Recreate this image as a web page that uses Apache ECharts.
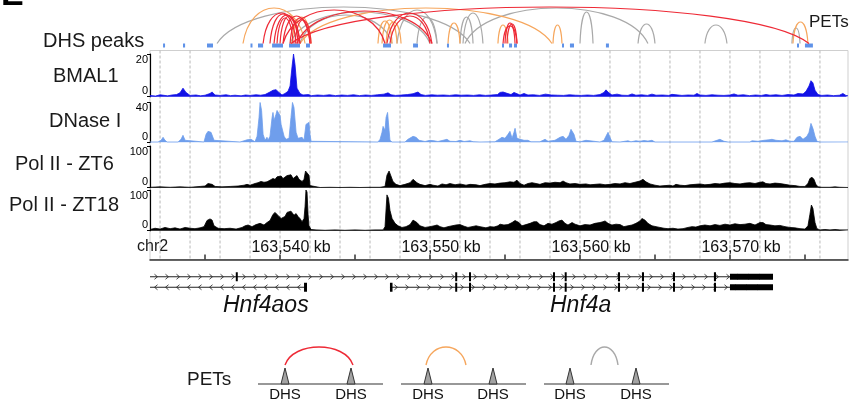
<!DOCTYPE html>
<html>
<head>
<meta charset="utf-8">
<script src="https://cdn.jsdelivr.net/npm/echarts@6/dist/echarts.min.js"></script>
<style>
  html, body { margin: 0; padding: 0; background: #fff; }
  #chart { width: 857px; height: 400px; }
</style>
</head>
<body>
<div id="chart"></div>
<script>
// positions are kb relative to chr2:163,540 kb
const BASE_KB = 163540;
const X_MIN = -8.67;
const X_MAX = 37.87;

const majorTicks = [-5, 0, 5, 10, 15, 20, 25, 30, 35];
const tickLabels = [0, 10, 20, 30];
const gridLines = [-8, -6, -4, -2, 0, 2, 4, 6, 8, 10, 12, 14, 16, 18, 20, 22, 24, 26, 28, 30, 32, 34, 36];

const trackNames = ['BMAL1', 'DNase I', 'Pol II - ZT6', 'Pol II - ZT18'];
const trackMax = [20, 40, 100, 100];

const bmal1 = [
  [-8.67,0.6],[-8.3,0.3],[-8.0,0.9],[-7.5,0.4],[-7.2,0.8],[-6.9,1.0],[-6.67,1.8],[-6.47,4.0],[-6.27,2.0],[-6.0,0.6],
  [-5.6,0.8],[-5.3,0.4],[-5.0,0.7],[-4.67,1.5],[-4.53,2.2],[-4.33,0.8],[-4.0,0.6],[-3.6,0.9],[-3.3,0.5],[-3.0,0.7],
  [-2.6,0.4],[-2.3,0.8],[-2.0,0.6],[-1.6,0.9],[-1.3,0.7],[-1.0,1.0],[-0.67,2.2],[-0.47,3.0],[-0.27,3.3],[-0.07,2.0],
  [0.13,0.8],[0.33,1.5],[0.53,2.5],[0.67,5],[0.8,14],[0.9,20],[1.0,15],[1.13,4],[1.33,1.5],[1.53,0.8],
  [1.9,1.0],[2.1,0.5],[2.5,0.8],[2.9,0.6],[3.3,0.9],[3.7,0.5],[4.1,0.8],[4.5,0.6],[4.9,0.9],[5.3,0.5],
  [5.7,0.8],[6.1,0.6],[6.5,0.9],[6.93,1.2],[7.2,1.8],[7.4,0.9],[7.7,0.6],[8.1,0.8],[8.5,1.0],[8.87,1.4],
  [9.2,2.2],[9.4,1.0],[9.7,0.6],[10.1,0.9],[10.5,0.7],[10.9,0.8],[11.3,0.6],[11.7,0.9],[12.1,0.7],[12.5,0.8],
  [12.9,0.6],[13.3,0.9],[13.7,0.6],[14.1,0.8],[14.5,1.0],[14.67,2.0],[14.87,2.2],[15.13,1.6],[15.4,1.0],[15.6,2.0],
  [15.8,1.4],[16.0,0.8],[16.27,1.5],[16.53,0.8],[16.9,0.9],[17.3,0.6],[17.7,1.2],[18.1,0.8],[18.5,0.7],[18.9,0.6],
  [19.3,0.9],[19.7,0.7],[20.1,0.6],[20.5,0.8],[20.9,0.6],[21.33,1.0],[21.6,2.0],[21.73,3.2],[21.93,1.8],[22.13,0.8],
  [22.47,1.2],[22.8,0.7],[23.2,0.6],[23.47,1.3],[23.73,0.7],[24.1,0.9],[24.5,0.6],[24.8,1.2],[25.07,0.7],[25.5,0.8],
  [25.9,0.6],[26.13,1.1],[26.4,0.9],[26.8,0.6],[27.2,0.8],[27.6,0.7],[27.8,1.5],[28.0,0.8],[28.4,0.6],[28.8,0.9],
  [29.2,0.7],[29.6,0.6],[30.0,0.8],[30.27,1.3],[30.53,0.7],[30.9,0.9],[31.3,0.5],[31.7,0.8],[32.1,0.6],[32.4,1.0],
  [32.67,0.7],[33.07,0.9],[33.47,0.6],[33.87,1.0],[34.27,0.8],[34.53,1.5],[34.87,1.3],[35.07,2.5],[35.27,5],[35.4,7.5],
  [35.53,6.5],[35.67,3],[35.87,1.0],[36.13,0.6],[36.5,0.8],[36.9,0.5],[37.3,0.7],[37.53,1.5],[37.73,0.6],[37.87,0.4]
];

const dnase = [
  [-8.67,0.3],[-8.13,0.3],[-7.93,2],[-7.8,5],[-7.67,2],[-7.53,0.3],[-6.8,0.3],[-6.6,3],[-6.47,7],[-6.33,2],
  [-6.2,0.3],[-5.07,0.3],[-4.93,8],[-4.8,11],[-4.6,10],[-4.47,11],[-4.4,2],[-4.27,0.3],[-2.67,0.3],[-2.4,1.5],
  [-2.2,2.5],[-2.07,0.8],[-1.93,3],[-1.87,5],[-1.8,1],[-1.67,0.5],[-1.53,6],[-1.4,25],[-1.33,40],[-1.23,32],
  [-1.13,8],[-1.0,2],[-0.93,4],[-0.87,5],[-0.8,2],[-0.67,6],[-0.53,25],[-0.47,30],[-0.4,22],[-0.27,28],
  [-0.2,32],[-0.13,30],[0,27],[0.07,18],[0.2,16],[0.27,6],[0.4,3],[0.6,4],[0.73,25],[0.83,40],
  [0.93,35],[1.07,10],[1.2,4],[1.33,5],[1.47,5],[1.6,2],[1.73,18],[1.8,20],[1.93,20],[2.0,8],
  [2.07,1],[2.2,0.3],[6.53,0.3],[6.67,3],[6.8,10],[6.87,16],[7.0,12],[7.07,25],[7.17,30],[7.27,12],
  [7.33,2],[7.47,0.3],[8.33,0.3],[8.53,3],[8.87,6],[9.07,5],[9.27,2],[9.4,1.5],[9.67,0.8],[10.0,2],
  [10.27,1.5],[10.53,0.8],[10.87,2],[11.13,3],[11.33,1],[11.73,0.8],[12.0,2],[12.27,0.8],[12.67,1.5],[12.87,0.6],
  [13.33,0.3],[14.33,0.5],[14.6,3],[14.8,5],[15.0,4],[15.2,8],[15.33,11],[15.47,4],[15.6,10],[15.67,14],
  [15.8,4],[16.0,3],[16.27,2],[16.53,2],[16.73,0.5],[17.33,0.5],[17.67,3],[17.87,1],[18.33,2],[18.67,5],
  [18.87,6],[19.07,3],[19.27,7],[19.4,13],[19.5,15],[19.6,8],[19.73,1],[20.0,0.5],[20.4,2],[20.53,0.5],
  [21.33,0.3],[21.6,2],[21.73,6],[21.87,10],[22.0,5],[22.13,0.5],[22.67,0.3],[23.2,1.5],[23.4,0.5],[23.73,1.5],
  [24.0,1],[24.27,1.8],[24.53,1.2],[24.8,2],[25.0,0.3],[28.8,0.3],[29.13,2],[29.33,3],[29.6,1],[29.87,0.3],
  [31.33,0.3],[31.47,1.5],[31.87,1],[32.27,2],[32.6,2.5],[32.8,3],[33.07,2],[33.47,1.5],[33.73,2.5],[34.0,1],
  [34.27,1],[34.47,5],[34.67,6],[34.87,3],[35.0,5],[35.13,6],[35.27,10],[35.4,19],[35.53,14],[35.67,6],
  [35.8,1],[36.0,0.3],[37.87,0.3]
];

const polZT6 = [
  [-8.67,1],[-8,2],[-7.33,1],[-6.67,2],[-6,1],[-5.33,3],[-5,4],[-4.8,10],[-4.67,12],[-4.53,8],
  [-4.33,3],[-3.87,2],[-3.33,3],[-2.8,4],[-2.4,6],[-2.2,8],[-2,6],[-1.67,10],[-1.47,12],[-1.27,15],
  [-1.07,13],[-0.87,14],[-0.67,18],[-0.47,22],[-0.33,20],[-0.2,26],[-0.07,24],[0.07,28],[0.2,22],[0.33,25],
  [0.47,29],[0.6,27],[0.73,31],[0.87,22],[1,26],[1.13,29],[1.27,20],[1.47,15],[1.6,20],[1.7,40],
  [1.8,44],[1.93,30],[2,5],[2.13,1],[2.67,0.5],[3.33,1],[4,0.5],[4.67,1],[5.33,0.5],[6,1],
  [6.67,1],[7,3],[7.13,30],[7.27,40],[7.4,38],[7.53,15],[7.73,8],[8,5],[8.33,8],[8.67,12],
  [8.87,20],[9,22],[9.13,12],[9.33,8],[9.67,5],[10,8],[10.2,6],[10.53,4],[10.8,9],[11.07,7],
  [11.33,10],[11.67,7],[12,9],[12.4,6],[12.67,8],[13.07,7],[13.33,5],[13.67,8],[14,10],[14.33,9],
  [14.67,11],[15,12],[15.33,14],[15.6,13],[15.8,18],[16,10],[16.27,6],[16.53,10],[16.8,12],[17.07,10],
  [17.33,8],[17.67,12],[18,11],[18.33,13],[18.67,12],[18.87,16],[19.07,12],[19.33,9],[19.67,10],[20,8],
  [20.4,9],[20.67,7],[21,8],[21.33,9],[21.67,7],[22,8],[22.33,10],[22.67,9],[23,12],[23.33,10],
  [23.67,13],[24,16],[24.2,20],[24.4,14],[24.67,9],[25,6],[25.33,4],[25.67,5],[26,6],[26.2,4],
  [26.4,8],[26.67,6],[27,5],[27.33,7],[27.67,8],[28,9],[28.33,7],[28.67,8],[29,10],[29.33,9],
  [29.67,11],[30,12],[30.33,10],[30.67,9],[31,11],[31.33,12],[31.67,10],[32,13],[32.2,14],[32.4,10],
  [32.67,9],[33,11],[33.33,10],[33.67,8],[34,6],[34.33,5],[34.67,3],[35,3],[35.2,10],[35.33,22],
  [35.47,25],[35.6,20],[35.73,8],[35.87,2],[36.13,1],[36.67,1],[37,2],[37.33,1],[37.87,0.5]
];

const polZT18 = [
  [-8.67,3],[-8.33,6],[-8,4],[-7.67,8],[-7.33,5],[-7,7],[-6.67,4],[-6.33,8],[-6,6],[-5.67,5],
  [-5.33,7],[-5.07,10],[-4.87,25],[-4.67,29],[-4.53,26],[-4.4,12],[-4.13,6],[-3.73,5],[-3.33,6],[-2.93,4],
  [-2.53,8],[-2.33,12],[-2.13,14],[-1.87,10],[-1.6,15],[-1.33,18],[-1.07,14],[-0.87,20],[-0.67,25],[-0.47,40],
  [-0.33,45],[-0.2,47],[-0.07,35],[0.07,30],[0.2,28],[0.33,35],[0.47,45],[0.6,42],[0.73,48],[0.8,50],
  [0.93,38],[1.07,42],[1.2,35],[1.33,30],[1.47,22],[1.6,30],[1.67,60],[1.73,100],[1.8,95],[1.87,40],
  [1.93,12],[2.07,3],[2.4,2],[3,1],[3.67,2],[4.33,1],[5,2],[5.67,1],[6.33,2],[6.87,2],
  [7,10],[7.13,88],[7.23,80],[7.33,50],[7.47,30],[7.67,18],[7.87,12],[8.13,8],[8.4,10],[8.67,15],
  [8.87,26],[9,30],[9.13,20],[9.33,12],[9.67,8],[10,10],[10.27,12],[10.47,14],[10.67,10],[10.93,7],
  [11.2,10],[11.47,12],[11.73,14],[12,15],[12.27,11],[12.53,8],[12.8,10],[13.07,12],[13.33,10],[13.73,7],
  [14,10],[14.27,9],[14.53,12],[14.67,16],[14.93,14],[15.2,15],[15.47,20],[15.67,25],[15.8,28],[15.93,20],
  [16.13,12],[16.4,15],[16.67,18],[16.93,22],[17.13,22],[17.33,15],[17.6,12],[17.87,18],[18.13,16],[18.4,20],
  [18.6,24],[18.8,26],[19,18],[19.2,14],[19.47,20],[19.67,16],[20,12],[20.33,15],[20.67,14],[21,18],
  [21.33,20],[21.53,22],[21.67,24],[21.87,18],[22.13,14],[22.4,16],[22.67,15],[22.93,10],[23.2,12],[23.47,14],
  [23.73,18],[24,24],[24.13,30],[24.33,26],[24.53,18],[24.8,12],[25.07,10],[25.33,8],[25.6,6],[25.87,5],
  [26.2,6],[26.53,4],[26.87,5],[27.2,8],[27.47,10],[27.73,9],[28,12],[28.33,14],[28.67,12],[29,15],
  [29.33,13],[29.67,16],[30,14],[30.33,17],[30.67,15],[31,16],[31.33,18],[31.67,14],[32,20],[32.2,20],
  [32.4,15],[32.67,14],[33,12],[33.33,13],[33.67,10],[34,8],[34.33,7],[34.67,5],[35,4],[35.2,12],
  [35.33,40],[35.43,63],[35.53,55],[35.67,20],[35.8,5],[36,2],[36.33,3],[36.67,2],[37,3],[37.33,2],[37.87,2]
];

// DHS peaks: [start, end]
const dhsPeaks = [
  [-7.8,-7.67],[-6.47,-6.33],[-4.87,-4.47],[-1.97,-1.9],[-1.47,-1.13],[-0.53,0.2],[0.6,1.33],[1.73,2.0],
  [6.87,7.4],[8.87,9.2],[11.13,11.2],[14.8,14.9],[15.27,15.47],[15.6,15.8],[18.8,18.93],[19.33,19.6],
  [21.73,21.93],[34.47,34.57],[35.0,35.53]
];

// PET arcs: [anchor1, anchor2, arc height]
const redPets = [
  [-1.13,1.33,35],[-0.67,1.07,34],[-0.4,1.33,33],[-0.2,0.87,30],[0,1.2,32],[0.2,2.0,32],[0.67,2.0,30],[1.0,2.07,28],
  [0.2,7.0,38],[1.13,10.13,37],[0.73,35.27,41],[7.13,10.13,35],[7.33,10.0,32],[15.0,15.67,25],[15.13,15.8,24],[14.87,15.8,22]
];
const orangePets = [
  [-2.47,1.67,40],[0.8,2.07,31],[1.33,18.13,40],[6.53,7.47,27],[6.8,7.8,28],[7.07,8.07,26],
  [11.2,12.0,25],[14.53,15.2,23],[18.2,18.8,23],[34.2,35.2,26]
];
const grayPets = [
  [-4.2,12.67,41],[0.67,10.0,36],[1.33,7.47,33],[7.8,10.47,38],[9.13,10.47,31],[12.0,12.87,31],
  [12.2,13.53,35],[12.33,24.53,40],[20.0,20.87,36],[23.87,25.0,24],[28.33,29.8,23],[34.13,34.67,20]
];

// gene models: rows 1 = upper transcript, 0 = lower
const geneLines = [[-8.67,32.87,1,1],[-8.67,1.8,0,-1],[7.33,32.87,0,1]];
const geneExons = [
  [-2.95,-2.82,1],[11.68,11.8,1],[12.6,12.73,1],[18.2,18.33,1],[18.98,19.1,1],[22.53,22.67,1],[24.13,24.27,1],[26.2,26.33,1],[28.93,29.07,1],
  [1.6,1.8,0],[7.33,7.5,0],[11.68,11.8,0],[12.6,12.73,0],[18.2,18.33,0],[18.98,19.1,0],[22.53,22.67,0],[24.13,24.27,0],[26.2,26.33,0],[28.93,29.07,0]
];
const geneUtr = [[30.0,32.87,1],[30.0,32.87,0]];

// key at the bottom, in its own units
const legendLines = [[0,125],[143,268],[286,411]];
const legendDhs = [27,93,170,235,312,378];
const legendPets = [[27,95,0],[168,208,1],[333,360,2]];

const RED = '#ee2a36', ORANGE = '#f6a65c', GRAY = '#a9a9a9';
const PET_COLORS = [RED, ORANGE, GRAY];
const FONT = "'Liberation Sans', Arial, sans-serif";
const ARC_BASE = 4.5;

function arcRender(color) {
  return function (params, api) {
    const p0 = api.coord([api.value(0), ARC_BASE]);
    const p3 = api.coord([api.value(1), ARC_BASE]);
    const top = api.coord([api.value(0), api.value(2)]);
    const k = (p0[1] - top[1]) / 0.75;
    const dx = (p3[0] - p0[0]) * 0.12;
    return {
      type: 'bezierCurve',
      shape: { x1: p0[0], y1: p0[1], x2: p3[0], y2: p3[1],
        cpx1: p0[0] + dx, cpy1: p0[1] - k, cpx2: p3[0] - dx, cpy2: p3[1] - k },
      style: { stroke: color, fill: 'none', lineWidth: 1.2 }
    };
  };
}

function dhsRender(params, api) {
  const a = api.coord([api.value(0), 4.5]);
  const b = api.coord([api.value(1), 0.5]);
  const w = Math.max(2, b[0] - a[0]);
  return { type: 'rect', shape: { x: a[0], y: a[1], width: w, height: b[1] - a[1] }, style: { fill: '#5f92e8' } };
}

function gridLineRender(params, api) {
  const a = api.coord([api.value(0), 1]);
  const b = api.coord([api.value(0), 0]);
  return { type: 'line', shape: { x1: a[0], y1: a[1], x2: b[0], y2: b[1] },
    style: { stroke: '#b8b8b8', lineWidth: 1, lineDash: [3, 2] } };
}

function geneLineRender(params, api) {
  const row = api.value(2), strand = api.value(3);
  const a = api.coord([api.value(0), row + 0.5]);
  const b = api.coord([api.value(1), row + 0.5]);
  const children = [{ type: 'line', shape: { x1: a[0], y1: a[1], x2: b[0], y2: b[1] }, style: { stroke: '#222', lineWidth: 1 } }];
  for (let x = a[0] + 6; x < b[0] - 4; x += 11) {
    children.push({ type: 'polyline',
      shape: { points: [[x - 1.5 * strand, a[1] - 2.5], [x + 1.5 * strand, a[1]], [x - 1.5 * strand, a[1] + 2.5]] },
      style: { stroke: '#333', fill: 'none', lineWidth: 0.9 } });
  }
  return { type: 'group', children };
}

function blockRender(h) {
  return function (params, api) {
    const row = api.value(2);
    const a = api.coord([api.value(0), row + 0.5]);
    const b = api.coord([api.value(1), row + 0.5]);
    const w = Math.max(2, b[0] - a[0]);
    return { type: 'rect', shape: { x: a[0], y: a[1] - h / 2, width: w, height: h }, style: { fill: '#000' } };
  };
}

function legendLineRender(params, api) {
  const a = api.coord([api.value(0), 0]);
  const b = api.coord([api.value(1), 0]);
  return { type: 'line', shape: { x1: a[0], y1: a[1], x2: b[0], y2: b[1] }, style: { stroke: '#333', lineWidth: 1.2 } };
}

function legendDhsRender(params, api) {
  const x = api.value(0);
  const l = api.coord([x - 4, 0]), r = api.coord([x + 4, 0]), t = api.coord([x, 16]);
  const lab = api.coord([x, -10.5]);
  return { type: 'group', children: [
    { type: 'polygon', shape: { points: [l, t, r] }, style: { fill: '#a3a3a3', stroke: '#333', lineWidth: 1 } },
    { type: 'text', style: { text: 'DHS', x: lab[0], y: lab[1], align: 'center', verticalAlign: 'middle',
      fontSize: 15, fontFamily: FONT, fill: '#111' } }
  ] };
}

function legendPetRender(params, api) {
  const p0 = api.coord([api.value(0), 19]);
  const p3 = api.coord([api.value(1), 19]);
  const top = api.coord([api.value(0), 37]);
  const k = (p0[1] - top[1]) / 0.75;
  const dx = (p3[0] - p0[0]) * 0.12;
  return { type: 'bezierCurve',
    shape: { x1: p0[0], y1: p0[1], x2: p3[0], y2: p3[1], cpx1: p0[0] + dx, cpy1: p0[1] - k, cpx2: p3[0] - dx, cpy2: p3[1] - k },
    style: { stroke: PET_COLORS[api.value(2)], fill: 'none', lineWidth: 1.4 } };
}

function kbLabel(v) {
  return String(BASE_KB + v).replace(/\B(?=(\d{3})+(?!\d))/g, ',') + ' kb';
}

// grids: 0 arcs, 1-4 tracks, 5 genome axis, 6 genes, 7 background, 8 key
const grids = [
  { left: 150, width: 698, top: 0, height: 48 },
  { left: 150, width: 698, top: 54, height: 42.7 },
  { left: 150, width: 698, top: 102.5, height: 39.8 },
  { left: 150, width: 698, top: 146, height: 41.7 },
  { left: 150, width: 698, top: 190, height: 40.7 },
  { left: 150, width: 698, top: 235, height: 24.5 },
  { left: 150, width: 698, top: 271.5, height: 21 },
  { left: 150, width: 698, top: 50.5, height: 209, show: true, borderColor: '#cfcfcf', borderWidth: 1, backgroundColor: 'transparent' },
  { left: 258, width: 411, top: 345, height: 39 }
];

const xAxes = grids.map((g, i) => ({
  type: 'value', gridIndex: i, min: i === 8 ? 0 : X_MIN, max: i === 8 ? 411 : X_MAX, show: false
}));
xAxes[5] = {
  type: 'value', gridIndex: 5, min: X_MIN, max: X_MAX, position: 'bottom',
  axisLine: { show: true, onZero: false, lineStyle: { color: '#333', width: 1.5 } },
  axisTick: { show: true, inside: true, length: 5, customValues: majorTicks, lineStyle: { color: '#333', width: 1.5 } },
  axisLabel: { show: true, inside: true, margin: 4, customValues: tickLabels, formatter: kbLabel,
    fontSize: 16, fontFamily: FONT, color: '#111', padding: [0, 0, 0, 22] },
  splitLine: { show: false }
};

const hiddenY = [[0, 48], null, null, null, null, [0, 1], [0, 2], [0, 1], [0, 39]];
const yAxes = grids.map((g, i) => {
  if (i >= 1 && i <= 4) {
    const m = trackMax[i - 1];
    return {
      type: 'value', gridIndex: i, min: 0, max: m, interval: m, position: 'left',
      axisLine: { show: true, onZero: false, lineStyle: { color: '#000', width: 1.2 } },
      axisTick: { show: true, length: 3, lineStyle: { color: '#000' } },
      axisLabel: { fontSize: 11, fontFamily: FONT, color: '#000', margin: 2,
        verticalAlignMaxLabel: 'top', verticalAlignMinLabel: 'bottom' },
      splitLine: { show: false }
    };
  }
  return { type: 'value', gridIndex: i, min: hiddenY[i][0], max: hiddenY[i][1], show: false };
});

const trackColors = ['#1212e6', '#6f9eec', '#000', '#000'];
const trackData = [bmal1, dnase, polZT6, polZT18];
const rel = arr => arr.map(p => [p[0], p[1]]);

const series = [
  { type: 'custom', xAxisIndex: 7, yAxisIndex: 7, renderItem: gridLineRender, data: gridLines.map(v => [v]), z: 0, silent: true },
  { type: 'custom', xAxisIndex: 0, yAxisIndex: 0, renderItem: dhsRender, data: dhsPeaks, encode: { x: [0, 1] }, z: 2 },
  { type: 'custom', xAxisIndex: 0, yAxisIndex: 0, renderItem: arcRender(GRAY), data: grayPets, encode: { x: [0, 1] }, z: 3 },
  { type: 'custom', xAxisIndex: 0, yAxisIndex: 0, renderItem: arcRender(ORANGE), data: orangePets, encode: { x: [0, 1] }, z: 4 },
  { type: 'custom', xAxisIndex: 0, yAxisIndex: 0, renderItem: arcRender(RED), data: redPets, encode: { x: [0, 1] }, z: 5 }
];
trackData.forEach((d, i) => {
  series.push({
    name: trackNames[i], type: 'line', xAxisIndex: i + 1, yAxisIndex: i + 1, data: rel(d),
    showSymbol: false, symbol: 'none', clip: true, z: 3,
    lineStyle: { color: trackColors[i], width: 0.8 },
    areaStyle: { color: trackColors[i], opacity: 1 }
  });
});
series.push(
  { type: 'custom', xAxisIndex: 6, yAxisIndex: 6, renderItem: geneLineRender, data: geneLines, encode: { x: [0, 1] }, z: 3 },
  { type: 'custom', xAxisIndex: 6, yAxisIndex: 6, renderItem: blockRender(9), data: geneExons, encode: { x: [0, 1] }, z: 4 },
  { type: 'custom', xAxisIndex: 6, yAxisIndex: 6, renderItem: blockRender(6), data: geneUtr, encode: { x: [0, 1] }, z: 4 },
  { type: 'custom', xAxisIndex: 8, yAxisIndex: 8, renderItem: legendLineRender, data: legendLines, encode: { x: [0, 1] }, z: 3 },
  { type: 'custom', xAxisIndex: 8, yAxisIndex: 8, renderItem: legendDhsRender, data: legendDhs.map(v => [v]), z: 4 },
  { type: 'custom', xAxisIndex: 8, yAxisIndex: 8, renderItem: legendPetRender, data: legendPets, encode: { x: [0, 1] }, z: 4 }
);

function label(text, left, y, size, extra) {
  return Object.assign({ type: 'text', left: left, top: y - size / 2,
    style: { text: text, fontSize: size, fontFamily: FONT, fill: '#1a1a1a' } }, extra || {});
}

const graphics = [
  { type: 'text', left: 1, top: -21, style: { text: 'E', fontSize: 34, fontWeight: 'bold', fontFamily: FONT, fill: '#000' } },
  label('DHS peaks', 43, 41, 20),
  label('PETs', 809, 22.5, 17),
  label(trackNames[0], 53, 76, 20),
  label(trackNames[1], 49, 121.5, 20),
  label(trackNames[2], 15, 164, 20),
  label(trackNames[3], 9, 205.5, 20),
  label('chr2', 137, 247, 16),
  { type: 'text', left: 223, top: 294, style: { text: 'Hnf4aos', fontSize: 23, fontStyle: 'italic', fontFamily: FONT, fill: '#111' } },
  { type: 'text', left: 550, top: 294, style: { text: 'Hnf4a', fontSize: 23, fontStyle: 'italic', fontFamily: FONT, fill: '#111' } },
  label('PETs', 187, 380, 19)
];

const chart = echarts.init(document.getElementById('chart'), null, { renderer: 'canvas' });
chart.setOption({
  animation: false,
  backgroundColor: '#fff',
  grid: grids,
  xAxis: xAxes,
  yAxis: yAxes,
  series: series,
  graphic: graphics
});
</script>
</body>
</html>
